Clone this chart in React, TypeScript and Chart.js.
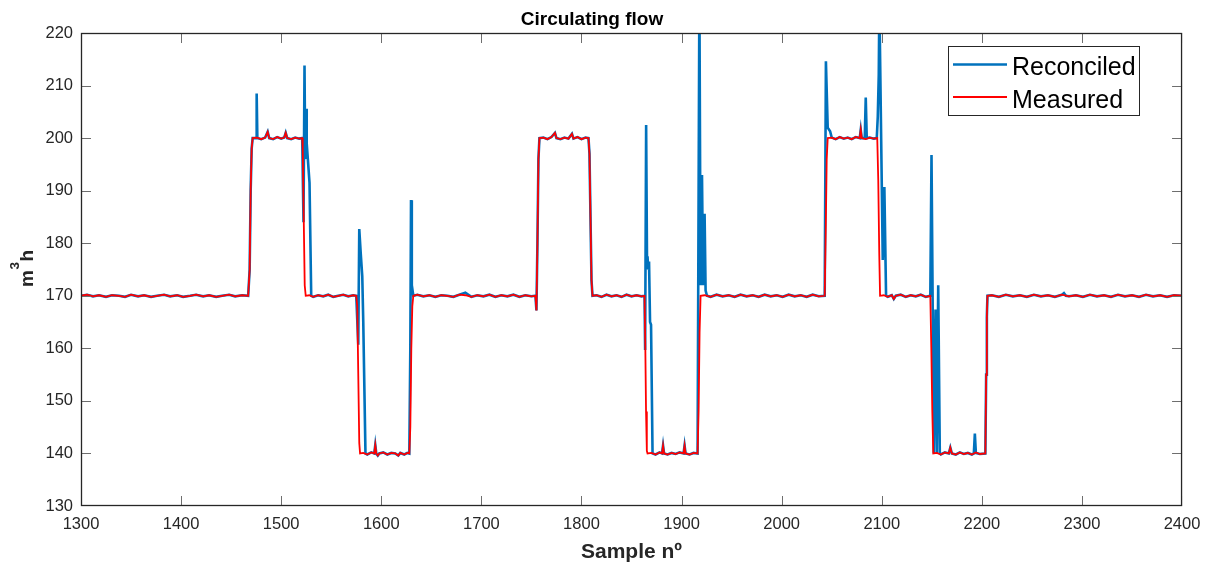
import React, { useEffect, useRef } from 'react';
import { Chart, registerables } from 'chart.js';

Chart.register(...registerables);

const titleText = 'Circulating flow';
const xTitle = 'Sample nº';
const yTitleBase = 'm';
const yTitleSup = '3';
const yTitleTail = 'h';
const xTickValues = [1300, 1400, 1500, 1600, 1700, 1800, 1900, 2000, 2100, 2200, 2300, 2400];
const yTickValues = [130, 140, 150, 160, 170, 180, 190, 200, 210, 220];

// Measured series (sample number, value)
const measuredSample = [
  1300, 1306, 1312, 1318, 1325, 1331, 1338, 1344, 1350, 1357, 1363, 1370, 1376, 1383, 1389, 1396, 1402, 1409, 1415, 1422,
  1428, 1435, 1441, 1448, 1454, 1461, 1467, 1468.5, 1469.5, 1470.5, 1471.5,
  1476, 1480, 1484, 1486.5, 1488, 1492, 1496, 1500, 1503, 1504.5, 1506, 1510, 1514, 1518, 1521,
  1521.5, 1522.5, 1523.5, 1524.5,
  1528, 1532, 1537, 1542, 1547, 1552, 1557, 1562, 1567, 1572, 1575,
  1576, 1577, 1578, 1578.8,
  1582, 1586, 1590, 1593, 1594, 1595, 1596.5, 1598, 1602, 1606, 1610, 1614, 1617, 1619, 1623, 1626, 1628,
  1629, 1630, 1631, 1632,
  1636, 1642, 1648, 1654, 1660, 1666, 1672, 1678, 1684, 1690, 1696, 1702, 1708, 1714, 1720, 1726, 1732, 1738, 1744, 1750, 1754,
  1755, 1756, 1757, 1758,
  1762, 1766, 1770, 1773.5, 1775, 1779, 1783, 1787, 1790.5, 1792, 1796, 1800, 1804, 1807,
  1808, 1809, 1810, 1811,
  1815, 1820, 1825, 1830, 1835, 1840, 1845, 1850, 1855, 1860, 1863,
  1863.8, 1864.5, 1865.3, 1866,
  1870, 1874, 1878, 1880.5, 1881.5, 1882.5, 1886, 1890, 1894, 1898, 1902, 1903, 1904, 1908, 1912, 1916,
  1917, 1918, 1919,
  1923, 1929, 1935, 1941, 1947, 1953, 1959, 1965, 1971, 1977, 1983, 1989, 1995, 2001, 2007, 2013, 2019, 2025, 2031, 2037, 2043,
  2044, 2045, 2046,
  2050, 2054, 2058, 2062, 2066, 2070, 2074, 2078, 2079, 2080, 2084, 2088, 2092, 2095.5,
  2096.5, 2097.5, 2098.3,
  2102, 2106, 2110, 2112, 2114, 2119, 2124, 2129, 2134, 2139, 2144, 2148.5,
  2149.5, 2150.5, 2151.5,
  2155, 2159, 2163, 2167, 2168.5, 2170, 2174, 2178, 2182, 2186, 2190, 2194, 2198, 2203.5,
  2204.3, 2205, 2205.6,
  2210, 2217, 2224, 2231, 2238, 2245, 2252, 2259, 2266, 2273, 2280, 2287, 2294, 2301, 2308, 2315, 2322, 2329, 2336, 2343,
  2350, 2357, 2364, 2371, 2378, 2385, 2392, 2400,
];
const measuredValue = [
  170.0, 170.2, 169.9, 170.1, 169.8, 170.1, 170.0, 169.8, 170.2, 169.9, 170.1, 169.8, 170.0, 170.2, 169.9, 170.1, 169.8, 170.0, 170.2, 169.9,
  170.1, 169.8, 170.0, 170.2, 169.9, 170.1, 170.0, 175, 190, 198, 200,
  200.1, 199.8, 200.1, 201.2, 200.0, 199.8, 200.2, 199.9, 200.1, 201.0, 200.0, 199.8, 200.1, 199.9, 200.0,
  198, 185, 172, 170,
  170.1, 169.8, 170.1, 169.9, 170.2, 169.8, 170.0, 170.2, 169.9, 170.1, 170.0,
  168, 155, 142, 140,
  140.1, 139.8, 140.2, 140.0, 141.6, 140.0, 139.6, 140.0, 140.2, 139.8, 140.1, 140.0, 139.6, 140.1, 139.8, 140.1, 140.0,
  145, 160, 168, 170,
  170.2, 169.9, 170.1, 169.8, 170.1, 170.0, 169.8, 170.2, 170.1, 169.8, 170.1, 169.9, 170.2, 169.8, 170.1, 169.9, 170.2, 169.8, 170.1, 169.9, 170.0,
  167.2, 180, 196, 200,
  200.1, 199.8, 200.2, 201.0, 200.0, 199.8, 200.1, 199.9, 200.8, 199.9, 200.2, 199.8, 200.1, 200.0,
  197, 185, 173, 170,
  170.1, 169.8, 170.2, 169.9, 170.1, 169.8, 170.2, 169.9, 170.1, 169.9, 170.0,
  160, 148, 140.5, 140,
  140.1, 139.8, 140.2, 140.0, 141.5, 140.0, 139.8, 140.1, 139.9, 140.2, 140.0, 141.5, 140.0, 139.8, 140.1, 140.0,
  148, 163, 170,
  170.1, 169.8, 170.2, 169.9, 170.1, 169.8, 170.2, 169.9, 170.1, 169.8, 170.2, 169.9, 170.1, 169.8, 170.2, 169.9, 170.1, 169.8, 170.2, 169.9, 170.0,
  182, 196, 200,
  200.1, 199.8, 200.2, 199.9, 200.1, 199.8, 200.2, 200.0, 201.6, 200.0, 199.8, 200.1, 199.9, 200.0,
  192, 178, 170,
  170.1, 169.8, 170.1, 169.4, 170.0, 170.2, 169.8, 170.1, 169.9, 170.2, 169.8, 170.0,
  160, 148, 140,
  140.1, 139.8, 140.2, 140.0, 141.1, 140.0, 139.8, 140.2, 139.9, 140.1, 139.8, 140.2, 139.9, 140.0,
  155, 166, 170,
  170.1, 169.8, 170.2, 169.9, 170.1, 169.8, 170.2, 169.9, 170.1, 169.8, 170.2, 169.9, 170.1, 169.8, 170.2, 169.9, 170.1, 169.8, 170.2, 169.9,
  170.1, 169.8, 170.2, 169.9, 170.1, 169.8, 170.1, 170.0,
];

// Reconciled series (sample number, value)
const reconciledSample = [
  1300, 1306, 1312, 1318, 1325, 1331, 1338, 1344, 1350, 1357, 1363, 1370, 1376, 1383, 1389, 1396, 1402, 1409, 1415, 1422,
  1428, 1435, 1441, 1448, 1454, 1461, 1467, 1468.5, 1469.5, 1470.5, 1471.5,
  1475, 1475.5, 1476.2, 1480, 1484, 1486.5, 1488, 1492, 1496, 1500, 1503, 1504.5, 1506, 1510, 1514, 1518, 1521,
  1522.3, 1523.3, 1524, 1524.8, 1525.5, 1527, 1528.3, 1530,
  1532, 1537, 1542, 1547, 1552, 1557, 1562, 1567, 1572, 1575,
  1577, 1578, 1579.5, 1581, 1582, 1584.2,
  1586, 1590, 1593, 1594, 1595, 1596.5, 1598, 1602, 1606, 1610, 1614, 1617, 1619, 1623, 1626, 1628,
  1629, 1629.7, 1630.5, 1632,
  1636, 1642, 1648, 1654, 1660, 1666, 1672, 1678, 1684, 1690, 1696, 1702, 1708, 1714, 1720, 1726, 1732, 1738, 1744, 1750, 1754,
  1755, 1756, 1757, 1758,
  1762, 1766, 1770, 1773.5, 1775, 1779, 1783, 1787, 1790.5, 1792, 1796, 1800, 1804, 1807,
  1808, 1809, 1810, 1811,
  1815, 1820, 1825, 1830, 1835, 1840, 1845, 1850, 1855, 1860, 1863,
  1863.6, 1864.6, 1865.5, 1866, 1866.6, 1867.5, 1868.5, 1869.5, 1871,
  1874, 1878, 1880.5, 1881.5, 1882.5, 1886, 1890, 1894, 1898, 1902, 1903, 1904, 1908, 1912, 1916,
  1917.8, 1919, 1920.4, 1921.5, 1923, 1924, 1925.4,
  1929, 1935, 1941, 1947, 1953, 1959, 1965, 1971, 1977, 1983, 1989, 1995, 2001, 2007, 2013, 2019, 2025, 2031, 2037, 2043,
  2044.2, 2046, 2048.4,
  2050, 2054, 2058, 2062, 2066, 2070, 2074, 2078, 2079, 2080, 2083, 2084, 2085, 2088, 2092, 2095,
  2096, 2097, 2097.6, 2101, 2102.6, 2104.3,
  2106, 2110, 2112, 2114, 2119, 2124, 2129, 2134, 2139, 2144, 2148.5,
  2149.7, 2152, 2153.7, 2155, 2156.4, 2158,
  2159, 2163, 2167, 2168.5, 2170, 2174, 2178, 2182, 2186, 2190, 2192, 2193, 2194, 2198, 2203.5,
  2204.3, 2205, 2205.6,
  2210, 2217, 2224, 2231, 2238, 2245, 2252, 2259, 2266, 2273, 2280, 2282, 2284, 2287, 2294, 2301, 2308, 2315, 2322, 2329, 2336, 2343,
  2350, 2357, 2364, 2371, 2378, 2385, 2392, 2400,
];
const reconciledValue = [
  170.0, 170.2, 169.9, 170.1, 169.8, 170.1, 170.0, 169.8, 170.2, 169.9, 170.1, 169.8, 170.0, 170.2, 169.9, 170.1, 169.8, 170.0, 170.2, 169.9,
  170.1, 169.8, 170.0, 170.2, 169.9, 170.1, 170.0, 175, 190, 198, 200,
  200.0, 208.5, 200.0, 199.8, 200.1, 201.2, 200.0, 199.8, 200.2, 199.9, 200.1, 201.0, 200.0, 199.8, 200.1, 199.9, 200.0,
  184, 213.8, 196, 205.6, 199, 195, 191.5, 170,
  169.8, 170.1, 169.9, 170.2, 169.8, 170.0, 170.2, 169.9, 170.1, 170.0,
  160.7, 182.7, 178, 173.7, 165, 140,
  139.8, 140.2, 140.0, 141.6, 140.0, 139.6, 140.0, 140.2, 139.8, 140.1, 140.0, 139.6, 140.1, 139.8, 140.1, 140.0,
  160, 188.2, 172, 170,
  170.2, 169.9, 170.1, 169.8, 170.1, 170.0, 169.8, 170.2, 170.6, 169.8, 170.1, 169.9, 170.2, 169.8, 170.1, 169.9, 170.2, 169.8, 170.1, 169.9, 170.0,
  167.2, 180, 196, 200,
  200.1, 199.8, 200.2, 201.0, 200.0, 199.8, 200.1, 199.9, 200.8, 199.9, 200.2, 199.8, 200.1, 200.0,
  197, 185, 173, 170,
  170.1, 169.8, 170.2, 169.9, 170.1, 169.8, 170.2, 169.9, 170.1, 169.9, 170.0,
  159.7, 202.5, 176, 177.5, 175, 176.5, 165, 164.5, 140,
  139.8, 140.2, 140.0, 141.5, 140.0, 139.8, 140.1, 139.9, 140.2, 140.0, 141.5, 140.0, 139.8, 140.1, 140.0,
  228, 172, 193, 172, 185.6, 171, 170,
  169.8, 170.2, 169.9, 170.1, 169.8, 170.2, 169.9, 170.1, 169.8, 170.2, 169.9, 170.1, 169.8, 170.2, 169.9, 170.1, 169.8, 170.2, 169.9, 170.0,
  214.6, 202, 201.3,
  200.1, 199.8, 200.2, 199.9, 200.1, 199.8, 200.2, 200.0, 201.6, 200.0, 200.0, 207.7, 200.0, 200.1, 199.9, 200.0,
  204, 212, 226, 176.8, 190.7, 170,
  169.8, 170.1, 169.4, 170.0, 170.2, 169.8, 170.1, 169.9, 170.2, 169.8, 170.0,
  196.8, 140, 167.4, 140, 172, 140,
  139.8, 140.2, 140.0, 141.1, 140.0, 139.8, 140.2, 139.9, 140.1, 139.8, 140.0, 143.8, 140.1, 139.9, 140.0,
  155, 166, 170,
  170.1, 169.8, 170.2, 169.9, 170.1, 169.8, 170.2, 169.9, 170.1, 169.8, 170.2, 170.5, 170.0, 169.9, 170.1, 169.8, 170.2, 169.9, 170.1, 169.8, 170.2, 169.9,
  170.1, 169.8, 170.2, 169.9, 170.1, 169.8, 170.1, 170.0,
];

const BLUE = '#0072BD';
const RED = '#FF0000';
const AXIS = '#262626';
const FONT = '"Liberation Sans", Arial, Helvetica, sans-serif';

const framePlugin = {
  id: 'matlabFrame',
  afterDatasetsDraw(chart: any) {
    const { ctx, chartArea, scales } = chart;
    const { left, right, top, bottom } = chartArea;
    const xs = scales.x;
    const ys = scales.y;
    ctx.save();
    ctx.strokeStyle = '#6e6e6e';
    ctx.lineWidth = 1;
    const tl = 10;
    const clampX = (v: number) => Math.min(Math.max(v, left + 0.5), right - 0.5);
    const clampY = (v: number) => Math.min(Math.max(v, top + 0.5), bottom - 0.5);
    ctx.beginPath();
    for (const v of xTickValues) {
      const px = clampX(Math.round(xs.getPixelForValue(v)) + 0.5);
      ctx.moveTo(px, bottom);
      ctx.lineTo(px, bottom - tl);
      ctx.moveTo(px, top);
      ctx.lineTo(px, top + tl);
    }
    for (const v of yTickValues) {
      const py = clampY(Math.round(ys.getPixelForValue(v)) + 0.5);
      ctx.moveTo(left, py);
      ctx.lineTo(left + tl, py);
      ctx.moveTo(right, py);
      ctx.lineTo(right - tl, py);
    }
    ctx.stroke();
    ctx.strokeStyle = AXIS;
    ctx.lineWidth = 1.3;
    ctx.strokeRect(left + 0.5, top + 0.5, right - left - 1, bottom - top - 1);

    // y-axis title with superscript
    const cy = (top + bottom) / 2 - 1;
    ctx.save();
    ctx.translate(33, cy);
    ctx.rotate(-Math.PI / 2);
    ctx.fillStyle = AXIS;
    ctx.textBaseline = 'alphabetic';
    ctx.textAlign = 'left';
    const bigFont = `bold 19px ${FONT}`;
    const supFont = `bold 13.5px ${FONT}`;
    ctx.font = bigFont;
    const wm = ctx.measureText(yTitleBase).width;
    const wh = ctx.measureText(yTitleTail).width;
    ctx.font = supFont;
    const w3 = ctx.measureText(yTitleSup).width;
    const total = wm + w3 + wh + 1;
    let cx = -total / 2;
    ctx.font = bigFont;
    ctx.fillText(yTitleBase, cx, 0);
    cx += wm + 0.5;
    ctx.font = supFont;
    ctx.fillText(yTitleSup, cx, -14.5);
    cx += w3 + 0.5;
    ctx.font = bigFont;
    ctx.fillText(yTitleTail, cx, 0);
    ctx.restore();

    // legend
    const bx = 948.5, by = 46.5, bw = 191, bh = 69;
    ctx.fillStyle = '#ffffff';
    ctx.fillRect(bx, by, bw, bh);
    ctx.strokeStyle = AXIS;
    ctx.lineWidth = 1;
    ctx.strokeRect(bx, by, bw, bh);
    const items = chart.data.datasets
      .map((d: any) => d)
      .sort((a: any, b: any) => a.legendIndex - b.legendIndex);
    items.forEach((d: any, i: number) => {
      const ly = 64.5 + i * 32.5;
      ctx.strokeStyle = d.borderColor;
      ctx.lineWidth = d.borderWidth;
      ctx.beginPath();
      ctx.moveTo(953, ly);
      ctx.lineTo(1007, ly);
      ctx.stroke();
      ctx.fillStyle = '#000';
      ctx.font = `25px ${FONT}`;
      ctx.textBaseline = 'alphabetic';
      ctx.textAlign = 'left';
      ctx.fillText(d.label, 1012, ly + 10.5);
    });
    ctx.restore();
  },
};

export default function App() {
  const ref = useRef<HTMLCanvasElement | null>(null);
  useEffect(() => {
    if (!ref.current) return;
    const measured = measuredSample.map((x, i) => ({ x, y: measuredValue[i] }));
    const reconciled = reconciledSample.map((x, i) => ({ x, y: reconciledValue[i] }));
    const chart = new Chart(ref.current, {
      type: 'line',
      data: {
        datasets: [
          {
            label: 'Measured',
            data: measured,
            borderColor: RED,
            borderWidth: 1.8,
            pointRadius: 0,
            tension: 0,
            clip: 0,
            order: 0,
            legendIndex: 1,
          } as any,
          {
            label: 'Reconciled',
            data: reconciled,
            borderColor: BLUE,
            borderWidth: 2.6,
            pointRadius: 0,
            tension: 0,
            clip: 0,
            order: 1,
            legendIndex: 0,
          } as any,
        ],
      },
      options: {
        animation: false,
        responsive: false,
        parsing: false,
        normalized: true,
        layout: { padding: { left: 0, right: 25, top: 0, bottom: 0 } },
        plugins: {
          legend: { display: false },
          tooltip: { enabled: false },
          title: {
            display: true,
            text: titleText,
            color: '#000',
            font: { family: FONT, size: 19, weight: 'bold', lineHeight: 1.2 },
            padding: { top: 8, bottom: 2.2 },
          },
        },
        scales: {
          x: {
            type: 'linear',
            min: 1300,
            max: 2400,
            grid: { display: false, drawTicks: false },
            border: { display: false },
            afterBuildTicks: (s: any) => {
              s.ticks = xTickValues.map((v) => ({ value: v }));
            },
            afterFit: (s: any) => {
              s.height = 59;
            },
            ticks: {
              color: AXIS,
              padding: 8.6,
              maxRotation: 0,
              autoSkip: false,
              font: { family: FONT, size: 16.5, lineHeight: 1.2 },
              callback: (v: any) => String(v),
            },
            title: {
              display: true,
              text: xTitle,
              color: AXIS,
              font: { family: FONT, size: 21, weight: 'bold', lineHeight: 1.2 },
              padding: { top: 0, bottom: 0.4 },
            },
          },
          y: {
            type: 'linear',
            min: 130,
            max: 220,
            grid: { display: false, drawTicks: false },
            border: { display: false },
            afterBuildTicks: (s: any) => {
              s.ticks = yTickValues.map((v) => ({ value: v }));
            },
            afterFit: (s: any) => {
              s.width = 81;
            },
            ticks: {
              color: AXIS,
              padding: 8,
              autoSkip: false,
              font: { family: FONT, size: 16.5, lineHeight: 1.2 },
              callback: (v: any) => String(v),
            },
            title: { display: false },
          },
        },
      },
      plugins: [framePlugin],
    });
    return () => chart.destroy();
  }, []);
  return (
    <div style={{ position: 'absolute', left: 0, top: 0, width: 1209, height: 565, background: '#fff' }}>
      <canvas ref={ref} width={1209} height={565} style={{ display: 'block', width: 1209, height: 565 }} />
    </div>
  );
}
